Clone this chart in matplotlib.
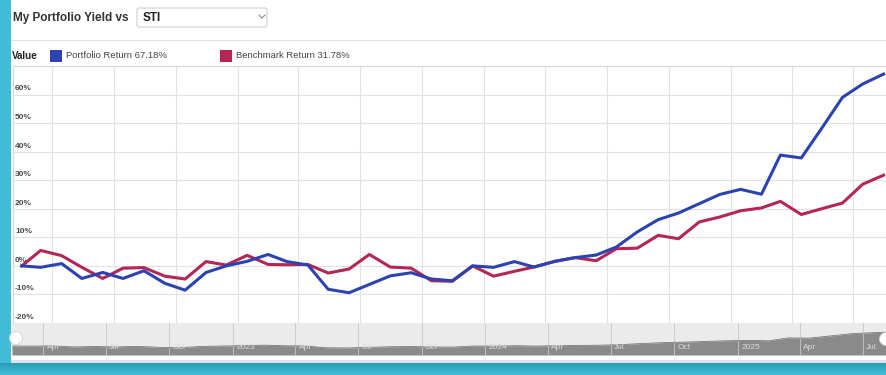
import matplotlib
matplotlib.use("Agg")
import matplotlib.pyplot as plt
import matplotlib.dates as mdates
from matplotlib.patches import Rectangle, FancyBboxPatch, Circle
from matplotlib.colors import LinearSegmentedColormap
import numpy as np
import pandas as pd

plt.rcParams["font.family"] = ["Liberation Sans", "DejaVu Sans"]

# ---- data: monthly cumulative returns (%) ----
dates = pd.date_range("2022-02-01", periods=43, freq="MS") + pd.Timedelta(days=14)

portfolio = [0.0, -0.5, 0.8, -4.4, -2.3, -4.4, -1.7, -6.1, -8.5, -2.3,
             0.0, 1.6, 4.0, 1.5, 0.3, -8.2, -9.4, -6.5, -3.5, -2.4,
             -4.6, -5.2, 0.0, -0.5, 1.5, -0.4, 1.6, 2.9, 3.8, 6.6,
             11.9, 16.2, 18.5, 21.8, 25.0, 26.8, 25.1, 38.8, 37.8, 48.1,
             59.0, 63.7, 67.18]

benchmark = [0.0, 5.4, 3.6, -0.5, -4.4, -0.8, -0.6, -3.6, -4.6, 1.5,
             0.3, 3.7, 0.5, 0.4, 0.5, -2.5, -1.1, 4.0, -0.4, -0.8,
             -5.2, -5.4, 0.0, -3.6, -1.9, -0.4, 1.6, 2.9, 1.8, 6.0,
             6.2, 10.7, 9.5, 15.4, 17.1, 19.3, 20.3, 22.6, 18.0, 20.0,
             22.0, 28.6, 31.78]

y_ticks = [-20, -10, 0, 10, 20, 30, 40, 50, 60]
benchmark_name = "STI"

BLUE = "#2b42b3"
RED = "#b52652"
GRID = "#e2e2e2"

W, H = 887, 375
fig = plt.figure(figsize=(W / 100, H / 100), dpi=100)
fig.patch.set_facecolor("white")


def px_box(x0, y0, x1, y1):
    return [x0 / W, 1 - y1 / H, (x1 - x0) / W, (y1 - y0) / H]


# ---- background layer (pixel coordinates) ----
bg = fig.add_axes([0, 0, 1, 1], zorder=0)
bg.set_xlim(0, W)
bg.set_ylim(H, 0)
bg.axis("off")

# frame around the white panel
bg.add_patch(Rectangle((0, 0), 11, H, color="#42bcd7", lw=0))
grad = LinearSegmentedColormap.from_list("edge", ["#2a9db6", "#44bcd6"])
bg.imshow(np.linspace(0, 1, 30)[:, None], extent=(0, W, H, 363),
          cmap=grad, aspect="auto", zorder=1)
bg.add_patch(Rectangle((11, 360), W - 11, 3, color="#dde3e5", lw=0, zorder=1))
bg.set_xlim(0, W)
bg.set_ylim(H, 0)

# header
bg.text(13, 18, "My Portfolio Yield vs", fontsize=8.5, fontweight="bold",
        color="#333333", va="center", ha="left")
bg.add_patch(FancyBboxPatch((137, 8), 130, 19,
                            boxstyle="round,pad=0,rounding_size=2",
                            fc="white", ec="#cfcfcf", lw=0.8))
bg.text(143, 18, benchmark_name, fontsize=8.5, fontweight="bold",
        color="#222222", va="center", ha="left")
bg.plot([259, 262, 265], [15, 18, 15], color="#8a8a8a", lw=0.8)
bg.plot([11, W], [39.5, 39.5], color="#e3e3e3", lw=0.8)

# legend row
bg.text(12, 56, "Value", fontsize=7, fontweight="bold", color="#222222",
        va="center", ha="left")
bg.add_patch(Rectangle((50, 50), 12, 12, color=BLUE, lw=0))
bg.text(66, 56, f"Portfolio Return {portfolio[-1]:.2f}%", fontsize=6.8,
        color="#444444", va="center", ha="left")
bg.add_patch(Rectangle((220, 50), 12, 12, color=RED, lw=0))
bg.text(236, 56, f"Benchmark Return {benchmark[-1]:.2f}%", fontsize=6.8,
        color="#444444", va="center", ha="left")

# ---- main chart ----
ax = fig.add_axes(px_box(13, 66, W, 323), zorder=2)
ax.set_facecolor("white")
ax.set_xlim(pd.Timestamp("2022-02-02"), pd.Timestamp("2025-08-20"))
ax.set_ylim(-20, 70)
ax.set_yticks(y_ticks + [70])
ax.xaxis.set_major_locator(mdates.MonthLocator(bymonth=[1, 4, 7, 10]))
ax.grid(True, color=GRID, lw=0.8)
ax.set_axisbelow(True)
ax.tick_params(length=0, labelbottom=False, labelleft=False)
for side in ("right", "bottom"):
    ax.spines[side].set_visible(False)
for side in ("left", "top"):
    ax.spines[side].set_color("#d8d8d8")
    ax.spines[side].set_linewidth(0.8)

for t in y_ticks:
    ax.annotate(f"{t}%", xy=(0, t), xycoords=("axes fraction", "data"),
                xytext=(1.5, 1.5), textcoords="offset points",
                ha="left", va="bottom", fontsize=6, fontweight="bold",
                color="#4a4a4a")

ax.plot(dates, benchmark, color=RED, lw=2.2, solid_joinstyle="round", zorder=3)
ax.plot(dates, portfolio, color=BLUE, lw=2.2, solid_joinstyle="round", zorder=4)

# ---- navigator strip ----
nav = fig.add_axes(px_box(12, 323, W, 355), zorder=2)
nav.set_facecolor("#ebebeb")
nav.set_xlim(pd.Timestamp("2022-02-15"), pd.Timestamp("2025-08-05"))
nav.set_ylim(-43, 110)
nav.fill_between(dates, portfolio, -43, color="#8a8a8a", lw=0, zorder=2)
nav.plot(dates, portfolio, color="#7a7a7a", lw=0.6, zorder=3)
nav.tick_params(length=0, labelbottom=False, labelleft=False)
for s in nav.spines.values():
    s.set_visible(False)

quarter_starts = pd.date_range("2022-04-01", "2025-07-01", freq="QS-JAN")
for d in quarter_starts:
    nav.axvline(d, color="#c8c8c8", lw=0.6, zorder=2.5)
    label = str(d.year) if d.month == 1 else d.strftime("%b")
    nav.annotate(label, xy=(d, 0.12), xycoords=("data", "axes fraction"),
                 xytext=(2.5, 0), textcoords="offset points",
                 ha="left", va="bottom", fontsize=6, color="#dadada", zorder=4)

# ---- navigator handles ----
fg = fig.add_axes([0, 0, 1, 1], zorder=5)
fg.set_xlim(0, W)
fg.set_ylim(H, 0)
fg.axis("off")
fg.patch.set_alpha(0)
fg.add_patch(Circle((16, 338), 6.5, fc="white", ec="#d0d0d0", lw=0.6))
fg.add_patch(Circle((886, 339), 6.5, fc="white", ec="#d0d0d0", lw=0.6))

fig.savefig("out.png", dpi=100)
